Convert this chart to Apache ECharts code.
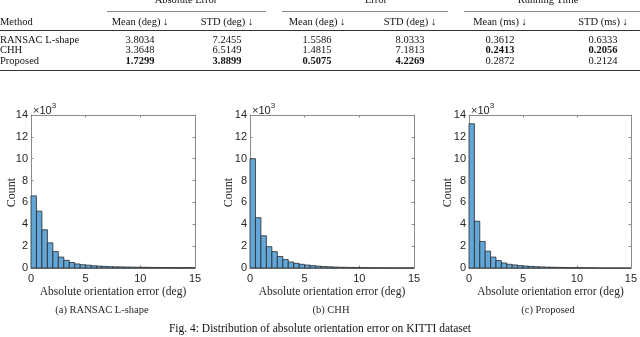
<!DOCTYPE html>
<html>
<head>
<meta charset="utf-8">
<script src="https://cdn.jsdelivr.net/npm/echarts@6/dist/echarts.min.js"></script>
<style>html,body{margin:0;padding:0;background:#fff}#c{width:640px;height:337px}</style>
</head>
<body>
<div id="c"></div>
<script>
// ---- data ----
const tableMethods = ['RANSAC L-shape', 'CHH', 'Proposed'];
const tableGroups = ['Absolute Error', 'Error', 'Running Time'];
const tableHeaders = ['Mean (deg) \u2193', 'STD (deg) \u2193', 'Mean (deg) \u2193', 'STD (deg) \u2193', 'Mean (ms) \u2193', 'STD (ms) \u2193'];
const tableRows = [
  ['3.8034', '7.2455', '1.5586', '8.0333', '0.3612', '0.6333'],
  ['3.3648', '6.5149', '1.4815', '7.1813', '0.2413', '0.2056'],
  ['1.7299', '3.8899', '0.5075', '4.2269', '0.2872', '0.2124']
];
const tableBold = [
  [false, false, false, false, false, false],
  [false, false, false, false, true, true],
  [true, true, true, true, false, false]
];
const binStarts = [0,0.5,1,1.5,2,2.5,3,3.5,4,4.5,5,5.5,6,6.5,7,7.5,8,8.5,9,9.5,10,10.5,11,11.5,12,12.5,13,13.5,14,14.5];
const binWidth = 0.5;
// counts in thousands
const ransacCounts = [6.6,5.2,3.5,2.3,1.5,1.0,0.7,0.5,0.37,0.3,0.26,0.21,0.18,0.15,0.12,0.11,0.1,0.09,0.08,0.07,0.07,0.06,0.05,0.05,0.04,0.04,0.03,0.03,0.04,0.03];
const chhCounts = [10.0,4.6,2.95,1.95,1.5,1.05,0.77,0.55,0.43,0.34,0.27,0.22,0.17,0.14,0.11,0.09,0.07,0.06,0.05,0.04,0.03,0.03,0.02,0.02,0.02,0.01,0.01,0.01,0.01,0.01];
const proposedCounts = [13.2,4.28,2.43,1.54,1.0,0.68,0.46,0.34,0.28,0.22,0.18,0.15,0.12,0.1,0.08,0.07,0.06,0.05,0.04,0.03,0.03,0.02,0.02,0.01,0,0,0,0,0,0];
const xTicks = {min: 0, max: 15, interval: 5};
const yTicks = {min: 0, max: 14, interval: 2};
const subCaptions = ['(a) RANSAC L-shape', '(b) CHH', '(c) Proposed'];
const xName = 'Absolute orientation error (deg)';
const yName = 'Count';
const figCaption = 'Fig. 4: Distribution of absolute orientation error on KITTI dataset';

// ---- layout ----
const plots = [
  {left: 31, width: 164, counts: ransacCounts, ylab: 12, cap: 102},
  {left: 250, width: 164, counts: chhCounts, ylab: 229, cap: 331},
  {left: 469, width: 163, counts: proposedCounts, ylab: 448, cap: 548}
];
const gTop = 115, gH = 153;
const serif = '"Liberation Serif", "DejaVu Serif", serif';
const sans = '"Liberation Sans", Arial, sans-serif';
const axisGray = '#8a8a8a';
const txt = '#262626';

const grids = [], xAxes = [], yAxes = [], series = [], graphics = [];

plots.forEach((p, i) => {
  grids.push({left: p.left, top: gTop, width: p.width, height: gH, containLabel: false});
  const common = {
    type: 'value', gridIndex: i, splitLine: {show: false},
    axisLine: {show: true, onZero: false, lineStyle: {color: axisGray, width: 1}},
    axisTick: {show: true, inside: true, length: 2.5, lineStyle: {color: axisGray}}
  };
  xAxes.push(Object.assign({}, common, {
    position: 'bottom', min: xTicks.min, max: xTicks.max, interval: xTicks.interval,
    axisLabel: {show: true, color: txt, fontFamily: sans, fontSize: 11, margin: 5}
  }));
  xAxes.push(Object.assign({}, common, {
    position: 'top', min: xTicks.min, max: xTicks.max, interval: xTicks.interval,
    axisLabel: {show: false}
  }));
  yAxes.push(Object.assign({}, common, {
    position: 'left', min: yTicks.min, max: yTicks.max, interval: yTicks.interval,
    axisLabel: {show: true, color: txt, fontFamily: sans, fontSize: 11, margin: 3}
  }));
  yAxes.push(Object.assign({}, common, {
    position: 'right', min: yTicks.min, max: yTicks.max, interval: yTicks.interval,
    axisLabel: {show: false}
  }));
  series.push({
    type: 'custom',
    xAxisIndex: i * 2, yAxisIndex: i * 2,
    data: binStarts.map((b, j) => [b, b + binWidth, p.counts[j]]),
    renderItem: function (params, api) {
      const a = api.coord([api.value(0), api.value(2)]);
      const b = api.coord([api.value(1), 0]);
      return {
        type: 'rect',
        shape: {x: a[0], y: a[1], width: b[0] - a[0], height: b[1] - a[1]},
        style: {fill: '#62a7d8', stroke: '#2a2a2a', lineWidth: 0.8}
      };
    },
    encode: {x: [0, 1], y: 2},
    silent: true
  });
  graphics.push({
    type: 'text', left: p.left + 2, top: gTop - 13,
    style: {text: '{a|\u00d710}{b|3}', fill: txt,
      rich: {a: {fontFamily: sans, fontSize: 11, fill: txt, verticalAlign: 'bottom'},
             b: {fontFamily: sans, fontSize: 8, fill: txt, verticalAlign: 'top', padding: [0, 0, 6, 0]}}}
  });
  graphics.push({
    type: 'text', x: p.ylab, y: gTop + gH / 2 + 1, rotation: Math.PI / 2,
    style: {text: yName, font: '12px ' + serif, fill: txt, align: 'center', verticalAlign: 'middle'}
  });
  graphics.push({
    type: 'text', x: p.left + p.width / 2, y: 292,
    style: {text: xName, font: '11.5px ' + serif, fill: txt, align: 'center', verticalAlign: 'middle'}
  });
  graphics.push({
    type: 'text', x: p.cap, y: 310,
    style: {text: subCaptions[i], font: '10.5px ' + serif, fill: txt, align: 'center', verticalAlign: 'middle'}
  });
});

graphics.push({
  type: 'text', x: 320, y: 329,
  style: {text: figCaption, font: '11.5px ' + serif, fill: '#111', align: 'center', verticalAlign: 'middle'}
});

// ---- table ----
const colX = [140, 227, 317, 410, 500, 603];
const groupX = [186, 376, 548];
const groupLines = [[107, 266], [282, 448], [464, 640]];
const tf = '10.5px ' + serif;
tableGroups.forEach((g, k) => {
  graphics.push({type: 'text', x: groupX[k], y: 0.5,
    style: {text: g, font: tf, fill: '#111', align: 'center', verticalAlign: 'middle'}});
  graphics.push({type: 'line', shape: {x1: groupLines[k][0], y1: 11.5, x2: groupLines[k][1], y2: 11.5},
    style: {stroke: '#555', lineWidth: 0.7}});
});
graphics.push({type: 'text', x: 0, y: 22,
  style: {text: 'Method', font: tf, fill: '#111', align: 'left', verticalAlign: 'middle'}});
tableHeaders.forEach((h, k) => {
  graphics.push({type: 'text', x: colX[k], y: 22,
    style: {text: h, font: tf, fill: '#111', align: 'center', verticalAlign: 'middle'}});
});
graphics.push({type: 'line', shape: {x1: 0, y1: 30.5, x2: 640, y2: 30.5}, style: {stroke: '#333', lineWidth: 1}});
tableRows.forEach((r, ri) => {
  const y = 40 + ri * 10.5;
  graphics.push({type: 'text', x: 0, y: y,
    style: {text: tableMethods[ri], font: tf, fill: '#111', align: 'left', verticalAlign: 'middle'}});
  r.forEach((v, k) => {
    graphics.push({type: 'text', x: colX[k], y: y,
      style: {text: v, font: (tableBold[ri][k] ? 'bold ' : '') + tf, fill: '#111', align: 'center', verticalAlign: 'middle'}});
  });
});
graphics.push({type: 'line', shape: {x1: 0, y1: 70.5, x2: 640, y2: 70.5}, style: {stroke: '#333', lineWidth: 1.2}});

const chart = echarts.init(document.getElementById('c'), null, {renderer: 'canvas'});
chart.setOption({
  animation: false,
  backgroundColor: '#fff',
  grid: grids, xAxis: xAxes, yAxis: yAxes, series: series, graphic: graphics
});
</script>
</body>
</html>
